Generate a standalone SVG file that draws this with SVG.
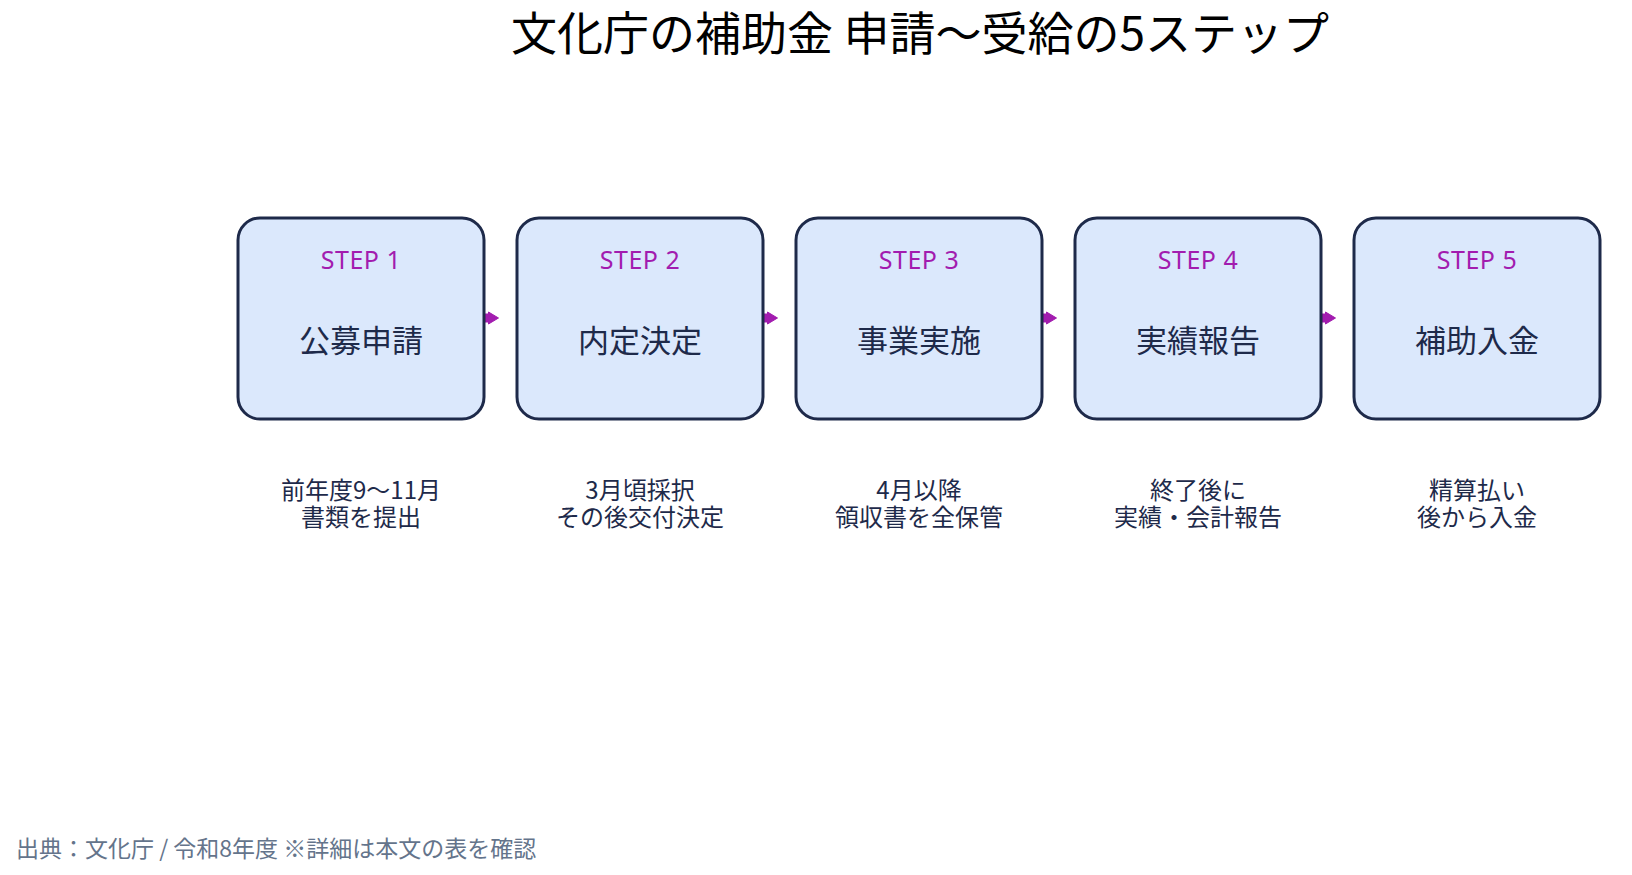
<svg xmlns="http://www.w3.org/2000/svg" width="1632" height="875" viewBox="0 0 1632 875">
<defs>
<style>
.box{fill:#dbe8fc;stroke:#1e2a4a;stroke-width:3}
.step{font-family:"Noto Sans","Noto Sans CJK JP",sans-serif;font-size:25px;fill:#a21caf;text-anchor:middle;letter-spacing:0.5px}
.lbl{font-family:"Noto Sans CJK JP",sans-serif;font-size:31px;fill:#1e2a4a;text-anchor:middle}
.desc{font-family:"Noto Sans CJK JP",sans-serif;font-size:24px;fill:#1e2a4a;text-anchor:middle}
.conn{stroke:#a21caf;stroke-width:9;stroke-linecap:round;fill:none}
</style>
<marker id="ah" viewBox="0 0 11 14" refX="1" refY="7" markerWidth="11" markerHeight="14" orient="auto" markerUnits="userSpaceOnUse">
<path d="M0.5,1 L10.5,7 L0.5,13 Z" fill="#a21caf" stroke="#a21caf" stroke-width="1" stroke-linejoin="round"/>
</marker>
</defs>
<rect width="1632" height="875" fill="#ffffff"/>
<text x="920" y="50" font-family="'Noto Sans CJK JP',sans-serif" font-size="46" fill="#000000" text-anchor="middle">文化庁の補助金 申請～受給の5ステップ</text>

<g id="connectors">
<line class="conn" x1="485" y1="318" x2="489" y2="318" marker-end="url(#ah)"/>
<line class="conn" x1="764" y1="318" x2="768" y2="318" marker-end="url(#ah)"/>
<line class="conn" x1="1043" y1="318" x2="1047" y2="318" marker-end="url(#ah)"/>
<line class="conn" x1="1322" y1="318" x2="1326" y2="318" marker-end="url(#ah)"/>
</g>

<g id="step1">
<rect class="box" x="238" y="218" width="246" height="201" rx="22"/>
<text class="step" x="361" y="269">STEP 1</text>
<text class="lbl" x="361" y="352">公募申請</text>
<text class="desc" x="361" y="499">前年度9～11月</text>
<text class="desc" x="361" y="526">書類を提出</text>
</g>
<g id="step2">
<rect class="box" x="517" y="218" width="246" height="201" rx="22"/>
<text class="step" x="640" y="269">STEP 2</text>
<text class="lbl" x="640" y="352">内定決定</text>
<text class="desc" x="640" y="499">3月頃採択</text>
<text class="desc" x="640" y="526">その後交付決定</text>
</g>
<g id="step3">
<rect class="box" x="796" y="218" width="246" height="201" rx="22"/>
<text class="step" x="919" y="269">STEP 3</text>
<text class="lbl" x="919" y="352">事業実施</text>
<text class="desc" x="919" y="499">4月以降</text>
<text class="desc" x="919" y="526">領収書を全保管</text>
</g>
<g id="step4">
<rect class="box" x="1075" y="218" width="246" height="201" rx="22"/>
<text class="step" x="1198" y="269">STEP 4</text>
<text class="lbl" x="1198" y="352">実績報告</text>
<text class="desc" x="1198" y="499">終了後に</text>
<text class="desc" x="1198" y="526">実績・会計報告</text>
</g>
<g id="step5">
<rect class="box" x="1354" y="218" width="246" height="201" rx="22"/>
<text class="step" x="1477" y="269">STEP 5</text>
<text class="lbl" x="1477" y="352">補助入金</text>
<text class="desc" x="1477" y="499">精算払い</text>
<text class="desc" x="1477" y="526">後から入金</text>
</g>

<text x="16" y="857" font-family="'Noto Sans CJK JP',sans-serif" font-size="23" fill="#64748b">出典：文化庁 / 令和8年度 ※詳細は本文の表を確認</text>
</svg>
